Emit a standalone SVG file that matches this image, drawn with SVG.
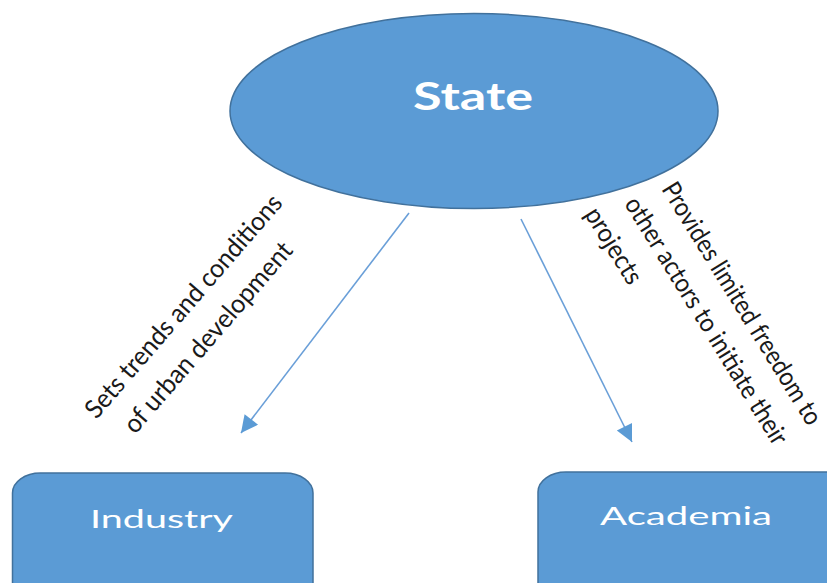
<svg xmlns="http://www.w3.org/2000/svg" width="827" height="583" viewBox="0 0 827 583">
  <style>
    .shape { fill: #5B9BD5; stroke: #41719C; stroke-width: 1.5; }
    .title { font-family: Lato, "Open Sans", sans-serif; fill: #ffffff; }
    .edge { stroke: #6A9FD8; stroke-width: 1.6; fill: none; }
    .note { font-family: Lato, "Open Sans", sans-serif; font-size: 26px; fill: #1a1a1a; }
  </style>
  <defs>
    <marker id="arrow" viewBox="0 0 10 10" refX="10" refY="5" markerWidth="21" markerHeight="17" markerUnits="userSpaceOnUse" orient="auto">
      <path d="M0,0 L10,5 L0,10 z" fill="#5B9BD5"/>
    </marker>
  </defs>
  <rect width="827" height="583" fill="#ffffff"/>

  <!-- connectors and their labels -->
  <g id="connectors">
    <line class="edge" x1="409" y1="213" x2="241" y2="433" marker-end="url(#arrow)"/>
    <line class="edge" x1="521" y1="219" x2="632" y2="442" marker-end="url(#arrow)"/>
    <g transform="translate(96.5,420) rotate(-49.1)">
      <text class="note" x="0" y="0" textLength="286" lengthAdjust="spacingAndGlyphs">Sets trends and conditions</text>
      <text class="note" x="14" y="39" textLength="243" lengthAdjust="spacingAndGlyphs">of urban development</text>
    </g>
    <g transform="translate(661,189) rotate(58.3)">
      <text class="note" x="0" y="0" textLength="280" lengthAdjust="spacingAndGlyphs">Provides limited freedom to</text>
      <text class="note" x="-7" y="39.4" textLength="286" lengthAdjust="spacingAndGlyphs">other actors to initiate their</text>
      <text class="note" x="-19" y="78.7" textLength="85" lengthAdjust="spacingAndGlyphs">projects</text>
    </g>
  </g>

  <g id="state">
    <ellipse class="shape" cx="474" cy="111" rx="244" ry="97.5"/>
    <text class="title" x="413" y="110" font-size="37.5" font-weight="bold" textLength="120" lengthAdjust="spacingAndGlyphs">State</text>
  </g>

  <g id="industry">
    <rect class="shape" x="12.5" y="473" width="300.5" height="140" rx="28" ry="20"/>
    <text class="title" x="90" y="528" font-size="25" textLength="143" lengthAdjust="spacingAndGlyphs">Industry</text>
  </g>

  <g id="academia">
    <rect class="shape" x="538" y="472" width="320" height="140" rx="28" ry="20"/>
    <text class="title" x="600" y="525" font-size="25" textLength="172" lengthAdjust="spacingAndGlyphs">Academia</text>
  </g>
</svg>
